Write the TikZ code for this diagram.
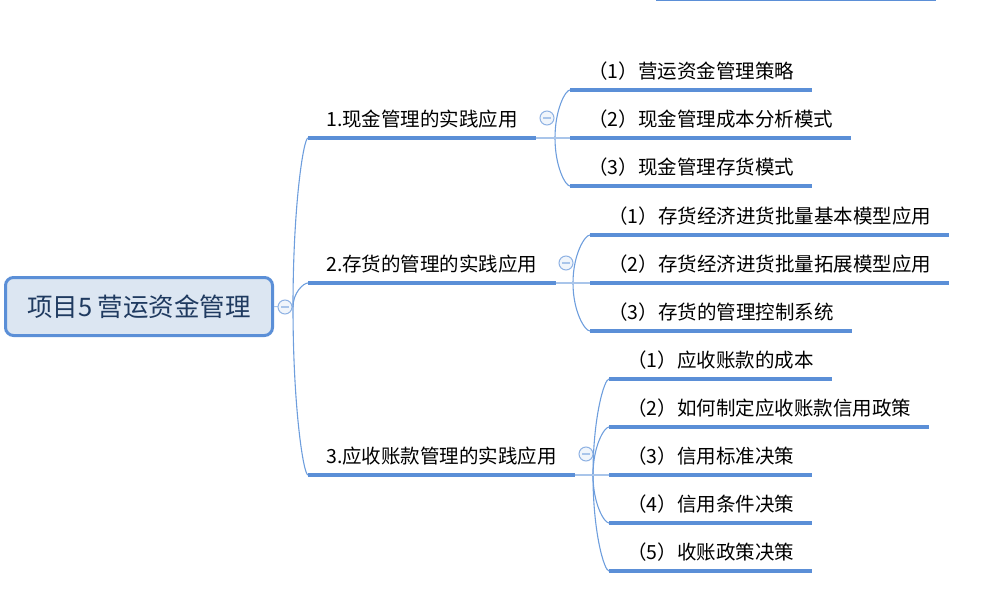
\documentclass[tikz,border=0pt]{standalone}
\usepackage{fontspec}
\setmainfont{Noto Sans CJK SC}
\usetikzlibrary{calc}

\definecolor{lineblue}{HTML}{5B8FD7}
\definecolor{twigblue}{HTML}{6E9EDD}
\definecolor{paleblue}{HTML}{A9C5EA}
\definecolor{foldring}{HTML}{8FB2E3}
\definecolor{foldfill}{HTML}{F0F5FB}
\definecolor{rootfill}{HTML}{DCE6F2}
\definecolor{roottext}{HTML}{1F3A60}

\begin{document}
\begin{tikzpicture}[x=1pt, y=-1pt,
  root/.style={draw=lineblue, line width=3pt, fill=rootfill, rounded corners=8pt,
    minimum width=267pt, minimum height=58pt, text=roottext,
    font=\fontsize{25.5}{30}\selectfont},
  topic/.style={anchor=south west, inner xsep=18pt, inner ysep=7.5pt,
    text height=15pt, text depth=4pt, font=\fontsize{19.5}{23}\selectfont},
  uline/.style={lineblue, line width=4pt},
  twig/.style={twigblue, line width=1.1pt},
  stub/.style={paleblue, line width=2pt},
  fold/.style={circle, draw=foldring, fill=foldfill, line width=1pt,
    minimum size=14pt, inner sep=0pt,
    path picture={\draw[paleblue, line width=1.6pt]
      ([xshift=-4pt]path picture bounding box.center) --
      ([xshift=4pt]path picture bounding box.center);}},
  link/.style={to path={.. controls ($(\tikztostart)!0.6!(\tikztostart |- \tikztotarget)$)
    and ($(\tikztotarget)!0.3!(\tikztostart |- \tikztotarget)$) .. (\tikztotarget)}}]
\useasboundingbox (0,0) rectangle (994,607);

% Line cut off at the top
\coordinate (cut-a) at (656,-1);
\coordinate (cut-b) at (936,-1);
\draw[uline] (cut-a) -- (cut-b);

% Root topic
\node[root] (root) at (139,306.5) {项目5 营运资金管理};
\coordinate (hub0) at (293,307);
\draw[stub, line width=1pt] (root.east) -- (hub0);

% Main branches
\node[topic] (b1) at (308,138) {1.现金管理的实践应用};
\node[topic] (b2) at (308,283) {2.存货的管理的实践应用};
\node[topic] (b3) at (308,475) {3.应收账款管理的实践应用};
\foreach \b in {1,2,3} {
    \draw[twig] (hub0) to[link] (b\b.south west);
    \draw[uline] (b\b.south west) -- (b\b.south east);
}
\node[fold] (fold0) at (285,307) {};

% Cash management
\coordinate (hub1) at (555,138);
\foreach \i/\y/\txt in {1/90/{（1）营运资金管理策略}, 2/138/{（2）现金管理成本分析模式},
                        3/186/{（3）现金管理存货模式}} {
    \node[topic] (c1\i) at (570,\y) {\txt};
    \draw[twig] (hub1) to[link] (c1\i.south west);
    \draw[uline] (c1\i.south west) -- (c1\i.south east);
}
\draw[stub] (b1.south east) -- (c12.south west);
\node[fold] (fold1) at (547,118) {};

% Inventory management
\coordinate (hub2) at (573,283);
\foreach \i/\y/\txt in {1/235/{（1）存货经济进货批量基本模型应用}, 2/283/{（2）存货经济进货批量拓展模型应用},
                        3/331/{（3）存货的管理控制系统}} {
    \node[topic] (c2\i) at (590,\y) {\txt};
    \draw[twig] (hub2) to[link] (c2\i.south west);
    \draw[uline] (c2\i.south west) -- (c2\i.south east);
}
\draw[stub] (b2.south east) -- (c22.south west);
\node[fold] (fold2) at (566,263) {};

% Receivables management
\coordinate (hub3) at (593,475);
\foreach \i/\y/\txt in {1/379/{（1）应收账款的成本}, 2/427/{（2）如何制定应收账款信用政策},
                        3/475/{（3）信用标准决策}, 4/523/{（4）信用条件决策},
                        5/571/{（5）收账政策决策}} {
    \node[topic] (c3\i) at (609,\y) {\txt};
    \draw[twig] (hub3) to[link] (c3\i.south west);
    \draw[uline] (c3\i.south west) -- (c3\i.south east);
}
\draw[stub] (b3.south east) -- (c33.south west);
\node[fold] (fold3) at (586,454) {};

\end{tikzpicture}
\end{document}
